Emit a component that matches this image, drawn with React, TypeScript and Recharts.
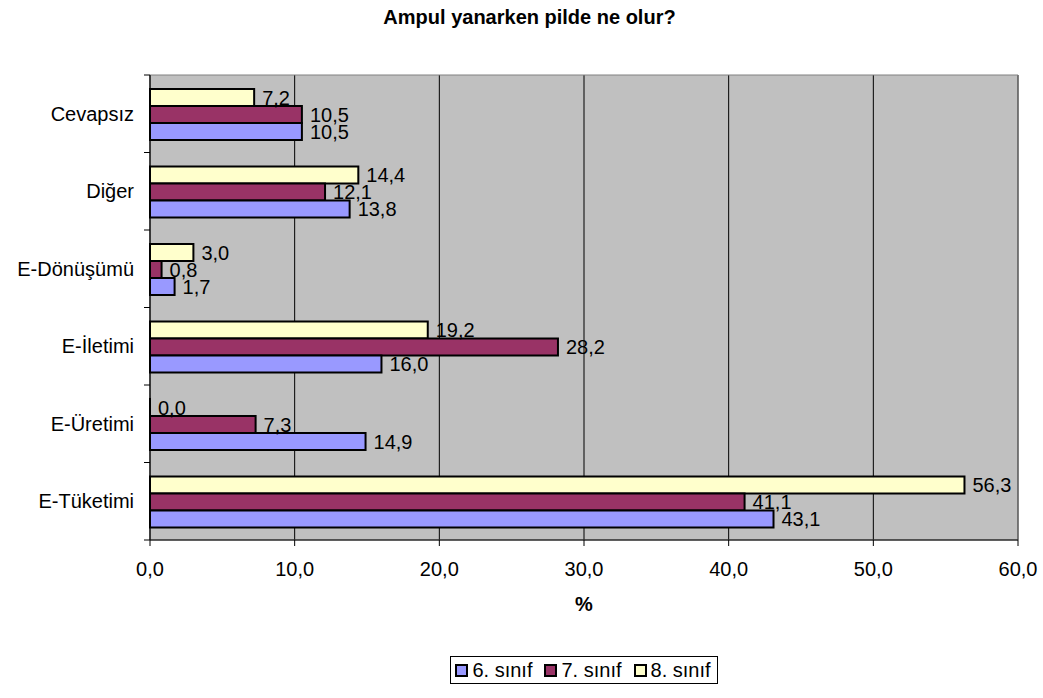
import {
  BarChart,
  Bar,
  XAxis,
  YAxis,
  CartesianGrid,
  Legend,
  LabelList,
  ReferenceArea,
} from 'recharts';

const categories = ['Cevapsız', 'Diğer', 'E-Dönüşümü', 'E-İletimi', 'E-Üretimi', 'E-Tüketimi'];
const sinif6 = [10.5, 13.8, 1.7, 16.0, 14.9, 43.1];
const sinif7 = [10.5, 12.1, 0.8, 28.2, 7.3, 41.1];
const sinif8 = [7.2, 14.4, 3.0, 19.2, 0.0, 56.3];
const xTicks = [0, 10, 20, 30, 40, 50, 60];

const seriesInfo = [
  { key: 's6', name: '6. sınıf', color: '#9999FF' },
  { key: 's7', name: '7. sınıf', color: '#993366' },
  { key: 's8', name: '8. sınıf', color: '#FFFFCC' },
];

const data = categories.map((cat, i) => ({
  cat,
  s6: sinif6[i],
  s7: sinif7[i],
  s8: sinif8[i],
}));

const W = 1043;
const H = 698;
const MARGIN = { top: 75, right: 25, bottom: 78, left: 0 };
const Y_WIDTH = 150;
const X_HEIGHT = 80;
const BAND = (H - MARGIN.top - MARGIN.bottom - X_HEIGHT) / categories.length;
const FONT = 'Arial, "Liberation Sans", sans-serif';
const FS = 20;

const fmt = (v: any) => Number(v).toFixed(1).replace('.', ',');

// Excel-style category ticks: marks sit on the band edges, not the centres
const CatTick = (props: any) => {
  const { y, payload, index } = props;
  const ax = Y_WIDTH;
  const top = y - BAND / 2;
  return (
    <g>
      <line x1={ax - 6} x2={ax} y1={top} y2={top} stroke="#000" />
      {index === categories.length - 1 && (
        <line x1={ax - 6} x2={ax} y1={top + BAND} y2={top + BAND} stroke="#000" />
      )}
      <text
        x={ax - 16}
        y={y}
        textAnchor="end"
        dominantBaseline="central"
        fontSize={FS}
        fontFamily={FONT}
        fill="#000"
      >
        {payload.value}
      </text>
    </g>
  );
};

const LegendBox = () => (
  <div style={{ display: 'flex', justifyContent: 'center', marginLeft: Y_WIDTH, width: W - Y_WIDTH - MARGIN.right }}>
    <div
      style={{
        display: 'flex',
        alignItems: 'center',
        border: '1px solid #000',
        padding: '1px 4px 1px 4px',
        fontFamily: FONT,
        fontSize: FS,
        lineHeight: '24px',
        color: '#000',
        background: '#fff',
      }}
    >
      {seriesInfo.map((s, i) => (
        <span
          key={s.key}
          style={{ display: 'flex', alignItems: 'center', marginRight: i < seriesInfo.length - 1 ? 12 : 2 }}
        >
          <span
            style={{
              display: 'inline-block',
              width: 9,
              height: 9,
              border: '2px solid #000',
              background: s.color,
              marginRight: 4,
            }}
          />
          {s.name}
        </span>
      ))}
    </div>
  </div>
);

export default function App() {
  return (
    <div style={{ position: 'absolute', left: 0, top: 0, width: W, height: H, background: '#fff' }}>
      <div
        style={{
          position: 'absolute',
          top: 6,
          left: 8,
          width: W,
          textAlign: 'center',
          fontFamily: FONT,
          fontWeight: 'bold',
          fontSize: FS,
          color: '#000',
        }}
      >
        Ampul yanarken pilde ne olur?
      </div>
      <BarChart
        width={W}
        height={H}
        data={data}
        layout="vertical"
        margin={MARGIN}
        barCategoryGap="18%"
        barGap={0}
      >
        <CartesianGrid horizontal={false} stroke="#000" fill="#C0C0C0" fillOpacity={1} />
        <ReferenceArea x1={0} x2={60} fill="none" stroke="#808080" strokeWidth={1} ifOverflow="visible" />
        <XAxis
          type="number"
          domain={[0, 60]}
          ticks={xTicks}
          tickFormatter={fmt}
          height={X_HEIGHT}
          stroke="#000"
          tickSize={6}
          tickMargin={16}
          tick={{ fontSize: FS, fontFamily: FONT, fill: '#000' }}
          label={{
            value: '%',
            position: 'insideBottom',
            offset: 9,
            style: { fontSize: FS, fontWeight: 'bold', fontFamily: FONT, fill: '#000' },
          }}
        />
        <YAxis
          type="category"
          dataKey="cat"
          width={Y_WIDTH}
          stroke="#000"
          tickLine={false}
          tick={<CatTick />}
          interval={0}
        />
        <Legend
          verticalAlign="middle"
          content={<LegendBox />}
          wrapperStyle={{ top: 656, left: 0, width: W }}
        />
        {[...seriesInfo].reverse().map((s) => (
          <Bar
            key={s.key}
            dataKey={s.key}
            name={s.name}
            fill={s.color}
            stroke="#000"
            strokeWidth={2}
            minPointSize={0.01}
            isAnimationActive={false}
          >
            <LabelList
              dataKey={s.key}
              position="right"
              offset={8}
              formatter={fmt}
              style={{ fontSize: FS, fontFamily: FONT, fill: '#000' }}
            />
          </Bar>
        ))}
      </BarChart>
    </div>
  );
}
